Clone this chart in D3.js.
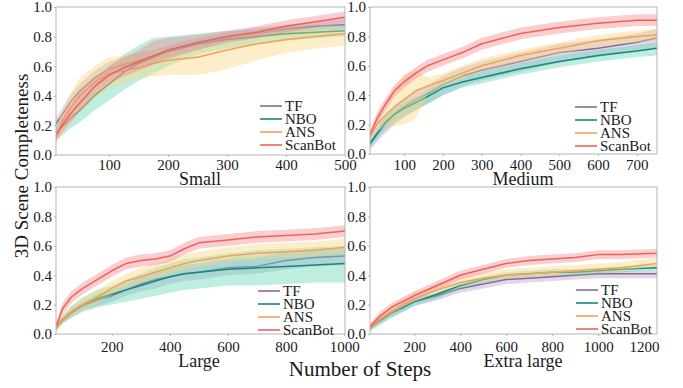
<!DOCTYPE html>
<html>
<head>
<meta charset="utf-8">
<script src="https://cdn.jsdelivr.net/npm/d3@7"></script>
<style>
  body { margin: 0; background: #fff; }
  svg { display: block; font-family: "Liberation Serif", "DejaVu Serif", serif; }
</style>
</head>
<body>
<svg id="chart" width="683" height="388"></svg>
<script>
// series order everywhere: TF, NBO, ANS, ScanBot
const methods = ["TF", "NBO", "ANS", "ScanBot"];
const panelTitles = ["Small", "Medium", "Large", "Extra large"];
const yTicks = [0, 0.2, 0.4, 0.6, 0.8, 1.0];

// Small
const smallSteps = [10, 20, 35, 50, 75, 100, 125, 150, 175, 200, 250, 300, 350, 400, 450, 500];
const smallTicks = [100, 200, 300, 400, 500];
const smallMean = [
  [0.21, 0.27, 0.36, 0.43, 0.52, 0.58, 0.61, 0.64, 0.67, 0.70, 0.75, 0.79, 0.82, 0.85, 0.87, 0.88],
  [0.15, 0.19, 0.25, 0.30, 0.40, 0.48, 0.56, 0.62, 0.66, 0.70, 0.75, 0.78, 0.80, 0.82, 0.83, 0.84],
  [0.12, 0.22, 0.32, 0.40, 0.49, 0.55, 0.57, 0.59, 0.62, 0.64, 0.66, 0.71, 0.75, 0.78, 0.80, 0.82],
  [0.13, 0.20, 0.28, 0.35, 0.46, 0.54, 0.59, 0.63, 0.67, 0.71, 0.76, 0.80, 0.83, 0.87, 0.90, 0.93]
];
const smallLo = [
  [0.17, 0.22, 0.31, 0.38, 0.47, 0.53, 0.57, 0.60, 0.63, 0.66, 0.71, 0.76, 0.79, 0.82, 0.84, 0.85],
  [0.10, 0.13, 0.18, 0.22, 0.30, 0.37, 0.44, 0.50, 0.55, 0.60, 0.68, 0.72, 0.75, 0.77, 0.79, 0.80],
  [0.08, 0.14, 0.22, 0.29, 0.38, 0.45, 0.48, 0.52, 0.53, 0.54, 0.54, 0.58, 0.64, 0.69, 0.72, 0.74],
  [0.09, 0.15, 0.22, 0.29, 0.40, 0.48, 0.53, 0.57, 0.61, 0.65, 0.71, 0.76, 0.79, 0.83, 0.86, 0.89]
];
const smallHi = [
  [0.25, 0.31, 0.41, 0.48, 0.57, 0.63, 0.66, 0.69, 0.71, 0.74, 0.79, 0.83, 0.86, 0.88, 0.90, 0.92],
  [0.20, 0.25, 0.33, 0.39, 0.50, 0.60, 0.68, 0.74, 0.79, 0.80, 0.82, 0.84, 0.85, 0.87, 0.88, 0.88],
  [0.17, 0.30, 0.42, 0.52, 0.60, 0.66, 0.67, 0.67, 0.70, 0.72, 0.76, 0.80, 0.83, 0.85, 0.86, 0.86],
  [0.17, 0.25, 0.34, 0.42, 0.52, 0.60, 0.66, 0.71, 0.77, 0.79, 0.81, 0.84, 0.87, 0.91, 0.94, 0.97]
];

// Medium
const mediumSteps = [12, 30, 50, 75, 100, 130, 160, 200, 250, 300, 400, 500, 600, 700, 752];
const mediumTicks = [100, 200, 300, 400, 500, 600, 700];
const mediumMean = [
  [0.07, 0.13, 0.20, 0.27, 0.32, 0.37, 0.41, 0.47, 0.53, 0.57, 0.63, 0.69, 0.72, 0.76, 0.79],
  [0.07, 0.14, 0.21, 0.27, 0.31, 0.35, 0.39, 0.45, 0.49, 0.52, 0.58, 0.63, 0.67, 0.70, 0.72],
  [0.12, 0.20, 0.26, 0.32, 0.37, 0.43, 0.46, 0.50, 0.55, 0.60, 0.67, 0.72, 0.77, 0.80, 0.81],
  [0.13, 0.24, 0.33, 0.43, 0.49, 0.55, 0.60, 0.64, 0.69, 0.75, 0.82, 0.86, 0.89, 0.91, 0.91]
];
const mediumLo = [
  [0.03, 0.08, 0.14, 0.20, 0.25, 0.30, 0.34, 0.40, 0.46, 0.50, 0.56, 0.62, 0.66, 0.70, 0.72],
  [0.04, 0.10, 0.16, 0.22, 0.26, 0.30, 0.34, 0.40, 0.45, 0.48, 0.54, 0.59, 0.63, 0.66, 0.67],
  [0.09, 0.15, 0.19, 0.19, 0.20, 0.24, 0.41, 0.46, 0.51, 0.56, 0.63, 0.68, 0.73, 0.76, 0.77],
  [0.10, 0.20, 0.29, 0.39, 0.45, 0.51, 0.56, 0.60, 0.65, 0.71, 0.78, 0.82, 0.85, 0.87, 0.87]
];
const mediumHi = [
  [0.11, 0.18, 0.26, 0.33, 0.38, 0.43, 0.47, 0.53, 0.59, 0.63, 0.69, 0.75, 0.78, 0.82, 0.85],
  [0.10, 0.18, 0.25, 0.31, 0.35, 0.39, 0.43, 0.49, 0.53, 0.56, 0.62, 0.67, 0.71, 0.74, 0.76],
  [0.15, 0.26, 0.34, 0.45, 0.54, 0.57, 0.52, 0.55, 0.60, 0.65, 0.71, 0.76, 0.81, 0.84, 0.85],
  [0.16, 0.28, 0.37, 0.47, 0.53, 0.59, 0.64, 0.68, 0.73, 0.79, 0.86, 0.90, 0.93, 0.95, 0.95]
];

// Large
const largeSteps = [8, 30, 60, 100, 150, 200, 250, 300, 350, 400, 450, 500, 600, 700, 800, 900, 1003];
const largeTicks = [200, 400, 600, 800, 1000];
const largeMean = [
  [0.04, 0.09, 0.14, 0.19, 0.23, 0.26, 0.30, 0.34, 0.37, 0.39, 0.41, 0.42, 0.45, 0.46, 0.50, 0.52, 0.53],
  [0.04, 0.10, 0.15, 0.20, 0.24, 0.27, 0.30, 0.33, 0.36, 0.39, 0.41, 0.42, 0.44, 0.45, 0.46, 0.47, 0.48],
  [0.04, 0.10, 0.15, 0.20, 0.25, 0.31, 0.36, 0.39, 0.42, 0.45, 0.48, 0.50, 0.53, 0.55, 0.56, 0.57, 0.59],
  [0.05, 0.17, 0.25, 0.31, 0.37, 0.43, 0.48, 0.50, 0.51, 0.53, 0.58, 0.62, 0.64, 0.66, 0.67, 0.68, 0.70]
];
const largeLo = [
  [0.02, 0.07, 0.11, 0.16, 0.19, 0.22, 0.26, 0.29, 0.31, 0.34, 0.36, 0.37, 0.40, 0.41, 0.44, 0.46, 0.47],
  [0.02, 0.07, 0.11, 0.15, 0.18, 0.20, 0.22, 0.24, 0.26, 0.28, 0.30, 0.31, 0.33, 0.33, 0.34, 0.35, 0.35],
  [0.02, 0.07, 0.12, 0.16, 0.21, 0.27, 0.32, 0.35, 0.38, 0.41, 0.44, 0.46, 0.49, 0.51, 0.52, 0.53, 0.55],
  [0.02, 0.13, 0.21, 0.27, 0.33, 0.39, 0.44, 0.46, 0.47, 0.49, 0.54, 0.58, 0.60, 0.62, 0.63, 0.64, 0.66]
];
const largeHi = [
  [0.06, 0.11, 0.17, 0.22, 0.27, 0.30, 0.34, 0.39, 0.43, 0.45, 0.47, 0.48, 0.51, 0.52, 0.56, 0.58, 0.59],
  [0.06, 0.13, 0.19, 0.25, 0.30, 0.33, 0.37, 0.41, 0.45, 0.48, 0.51, 0.52, 0.55, 0.57, 0.58, 0.59, 0.60],
  [0.06, 0.13, 0.19, 0.24, 0.30, 0.36, 0.41, 0.45, 0.48, 0.51, 0.54, 0.56, 0.59, 0.61, 0.62, 0.63, 0.65],
  [0.08, 0.21, 0.29, 0.35, 0.41, 0.47, 0.52, 0.54, 0.55, 0.57, 0.62, 0.66, 0.68, 0.70, 0.71, 0.72, 0.74]
];

// Extra large
const xlSteps = [8, 50, 100, 150, 200, 300, 400, 500, 600, 700, 800, 900, 1000, 1100, 1256];
const xlTicks = [200, 400, 600, 800, 1000, 1200];
const xlMean = [
  [0.04, 0.09, 0.14, 0.18, 0.22, 0.26, 0.31, 0.34, 0.37, 0.38, 0.39, 0.40, 0.41, 0.41, 0.41],
  [0.04, 0.09, 0.14, 0.18, 0.22, 0.27, 0.33, 0.37, 0.40, 0.41, 0.42, 0.42, 0.43, 0.44, 0.45],
  [0.04, 0.10, 0.15, 0.20, 0.24, 0.30, 0.35, 0.38, 0.40, 0.41, 0.42, 0.43, 0.44, 0.45, 0.48],
  [0.05, 0.12, 0.18, 0.22, 0.26, 0.33, 0.40, 0.44, 0.48, 0.50, 0.51, 0.52, 0.54, 0.54, 0.55]
];
const xlLo = [
  [0.02, 0.06, 0.11, 0.15, 0.19, 0.23, 0.28, 0.31, 0.34, 0.35, 0.36, 0.37, 0.38, 0.38, 0.38],
  [0.02, 0.07, 0.11, 0.15, 0.19, 0.24, 0.31, 0.35, 0.38, 0.39, 0.40, 0.40, 0.41, 0.42, 0.43],
  [0.03, 0.08, 0.13, 0.18, 0.22, 0.28, 0.33, 0.36, 0.38, 0.39, 0.40, 0.41, 0.42, 0.43, 0.46],
  [0.03, 0.09, 0.15, 0.19, 0.23, 0.30, 0.37, 0.41, 0.45, 0.47, 0.48, 0.49, 0.51, 0.51, 0.52]
];
const xlHi = [
  [0.06, 0.11, 0.16, 0.20, 0.24, 0.28, 0.33, 0.36, 0.39, 0.40, 0.41, 0.42, 0.43, 0.43, 0.43],
  [0.06, 0.11, 0.16, 0.20, 0.24, 0.29, 0.35, 0.39, 0.42, 0.43, 0.44, 0.44, 0.45, 0.46, 0.47],
  [0.07, 0.13, 0.19, 0.24, 0.28, 0.34, 0.39, 0.42, 0.44, 0.45, 0.46, 0.47, 0.48, 0.49, 0.52],
  [0.07, 0.15, 0.21, 0.25, 0.29, 0.36, 0.43, 0.47, 0.51, 0.53, 0.54, 0.55, 0.57, 0.57, 0.58]
];

const lineColors = ["#8a6a8e", "#16877d", "#f5a05a", "#f0605e"];
const bandColors = ["#b79ed0", "#62d6b4", "#f7d77c", "#f4878d"];
const fontFamily = '"Liberation Serif", "DejaVu Serif", serif';

// pixel boxes [left, right, top, bottom] for each panel
const panels = [
  { steps: smallSteps, mean: smallMean, lo: smallLo, hi: smallHi, ticks: smallTicks,
    box: [56, 345, 7, 155], tickY: 170, titleX: 200, titleY: 185, legX: 260, legY: 106 },
  { steps: mediumSteps, mean: mediumMean, lo: mediumLo, hi: mediumHi, ticks: mediumTicks,
    box: [370, 657, 7, 154], tickY: 170, titleX: 523, titleY: 185, legX: 575, legY: 107 },
  { steps: largeSteps, mean: largeMean, lo: largeLo, hi: largeHi, ticks: largeTicks,
    box: [56, 345, 187, 334], tickY: 352, titleX: 199, titleY: 367, legX: 258, legY: 291 },
  { steps: xlSteps, mean: xlMean, lo: xlLo, hi: xlHi, ticks: xlTicks,
    box: [370, 657, 187, 334], tickY: 352, titleX: 523, titleY: 367, legX: 576, legY: 290 }
];

const svg = d3.select("#chart");
const textColor = "#1a1a1a";
const frameColor = "#b4b4b4";

panels.forEach((p, pi) => {
  const [x0, x1, y0, y1] = p.box;
  const x = d3.scaleLinear().domain(d3.extent(p.steps)).range([x0, x1]);
  const y = d3.scaleLinear().domain([0, 1]).range([y1, y0]);
  const g = svg.append("g").attr("class", "panel");

  const clipId = "clip" + pi;
  svg.append("clipPath").attr("id", clipId)
    .append("rect").attr("x", x0).attr("y", y0).attr("width", x1 - x0).attr("height", y1 - y0);

  const plot = g.append("g").attr("clip-path", `url(#${clipId})`);

  methods.forEach((m, k) => {
    const pts = p.steps.map((s, i) => ({ s, m: p.mean[k][i], lo: p.lo[k][i], hi: p.hi[k][i] }));
    const area = d3.area()
      .x((d) => x(d.s))
      .y0((d) => y(d.lo))
      .y1((d) => y(d.hi));
    const line = d3.line()
      .x((d) => x(d.s))
      .y((d) => y(d.m));

    plot.append("path").datum(pts)
      .attr("d", area)
      .attr("fill", bandColors[k])
      .attr("fill-opacity", 0.42)
      .attr("stroke", "none");

    plot.append("path").datum(pts)
      .attr("d", line)
      .attr("fill", "none")
      .attr("stroke", lineColors[k])
      .attr("stroke-width", 1.5)
      .attr("stroke-linejoin", "round");
  });

  // frame
  g.append("rect")
    .attr("x", x0).attr("y", y0)
    .attr("width", x1 - x0).attr("height", y1 - y0)
    .attr("fill", "none")
    .attr("stroke", frameColor)
    .attr("stroke-width", 1);

  // x axis
  const tickSize = 2;
  const xAxis = d3.axisBottom(x)
    .tickValues(p.ticks)
    .tickFormat(d3.format("d"))
    .tickSize(tickSize)
    .tickPadding(p.tickY - y1 - 0.71 * 15 - tickSize);
  const gx = g.append("g").attr("transform", `translate(0,${y1})`).call(xAxis)
    .attr("font-family", fontFamily).attr("font-size", 15);
  gx.select(".domain").remove();
  gx.selectAll(".tick line").attr("stroke", frameColor);
  gx.selectAll(".tick text").attr("fill", textColor);

  // y axis
  const yAxis = d3.axisLeft(y)
    .tickValues(yTicks)
    .tickFormat(d3.format(".1f"))
    .tickSize(tickSize)
    .tickPadding(2);
  const gy = g.append("g").attr("transform", `translate(${x0},0)`).call(yAxis)
    .attr("font-family", fontFamily).attr("font-size", 15);
  gy.select(".domain").remove();
  gy.selectAll(".tick line").attr("stroke", frameColor);
  gy.selectAll(".tick text").attr("fill", textColor);

  // panel title under the axis
  g.append("text")
    .attr("x", p.titleX).attr("y", p.titleY)
    .attr("text-anchor", "middle")
    .attr("fill", textColor)
    .style("font-size", "18px")
    .text(panelTitles[pi]);

  // legend
  const leg = g.append("g").attr("transform", `translate(${p.legX},${p.legY})`);
  methods.forEach((m, k) => {
    const row = leg.append("g").attr("transform", `translate(0,${k * 13})`);
    row.append("line")
      .attr("x1", 0).attr("x2", 22)
      .attr("stroke", lineColors[k])
      .attr("stroke-width", 1.6);
    row.append("text")
      .attr("x", 25).attr("y", 5)
      .attr("fill", textColor)
      .style("font-size", "15px")
      .text(m);
  });
});

// shared axis titles
svg.append("text")
  .attr("x", 360).attr("y", 376)
  .attr("text-anchor", "middle")
  .attr("fill", textColor)
  .style("font-size", "21px")
  .text("Number of Steps");

svg.append("text")
  .attr("transform", "translate(28,166) rotate(-90)")
  .attr("text-anchor", "middle")
  .attr("fill", textColor)
  .style("font-size", "19px")
  .text("3D Scene Completeness");
</script>
</body>
</html>
